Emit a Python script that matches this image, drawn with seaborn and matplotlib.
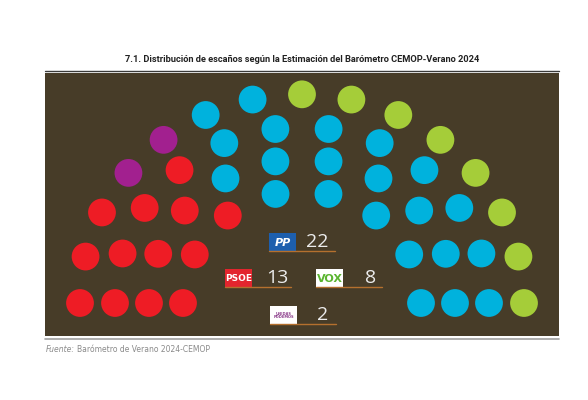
import numpy as np
import pandas as pd
import matplotlib
matplotlib.use("Agg")
import matplotlib.pyplot as plt
from matplotlib.patches import Rectangle
import seaborn as sns

# seats per hemicycle row (outer -> inner), parties left to right
ROW_SEATS = [15, 12, 10, 8]
PARTIES = ["PSOE", "Podemos", "PP", "VOX"]
PSOE_ROW = [3, 4, 3, 3]
PODEMOS_ROW = [2, 0, 0, 0]
PP_ROW = [2, 8, 7, 5]
VOX_ROW = [8, 0, 0, 0]
TOTALS = [13, 2, 22, 8]

COLORS = {"PSOE": "#ee1c25", "Podemos": "#a2208f", "PP": "#00b2dd", "VOX": "#a5cd39"}
BG = "#473c28"

TITLE = "7.1. Distribución de escaños según la Estimación del Barómetro CEMOP-Verano 2024"

# build seat table on a hemicycle
center_x, center_y = 302, 303
radius_x = [222, 187, 153, 119]
y_ratio = 0.94
rows = []
for r, n in enumerate(ROW_SEATS):
    counts = [PSOE_ROW[r], PODEMOS_ROW[r], PP_ROW[r], VOX_ROW[r]]
    labels = [p for p, c in zip(PARTIES, counts) for _ in range(c)]
    ang = np.linspace(np.pi, 0, n)
    for a, lab in zip(ang, labels):
        rows.append({
            "x": center_x + radius_x[r] * np.cos(a),
            "y": center_y - radius_x[r] * y_ratio * np.sin(a),
            "party": lab,
        })
seats = pd.DataFrame(rows)

sns.set_theme(style="white")
plt.rcParams["font.family"] = ["DejaVu Sans"]

fig = plt.figure(figsize=(5.88, 4.0), dpi=100)
ax = fig.add_axes([0, 0, 1, 1])

# panel and rules
ax.add_patch(Rectangle((45, 73), 514, 263, facecolor=BG, edgecolor="none", zorder=0))
ax.plot([45, 559], [71, 71], color="#3a3a3a", lw=1.0)
ax.plot([45, 559], [338.5, 338.5], color="#a0a0a0", lw=1.2)

ax.text(302, 59, TITLE, ha="center", va="center", fontsize=6.7, fontweight="bold",
        color="#222222", family=["Roboto", "DejaVu Sans"])

sns.scatterplot(data=seats, x="x", y="y", hue="party", palette=COLORS, s=400,
                linewidth=0, legend=False, ax=ax, zorder=3)
ax.set_xlim(0, 588)
ax.set_ylim(400, 0)
ax.axis("off")

# party badges with seat totals
badges = [
    ("PP", 269, 233, "#1d5fae", "PP", "white", 317),
    ("PSOE", 225, 269, "#e3252e", "PSOE", "white", 277),
    ("VOX", 316, 269, "white", "VOX", "#5bb531", 371),
    ("Podemos", 270, 306, "white", "UNIDAS\nPODEMOS", "#8a3a8a", 323),
]
for party, bx, by, fc, txt, tc, nx in badges:
    total = TOTALS[PARTIES.index(party)]
    ax.add_patch(Rectangle((bx, by), 27, 18, facecolor=fc, edgecolor="none", zorder=4))
    fs = 2.6 if party == "Podemos" else (6.5 if party == "PSOE" else 8)
    ax.text(bx + 13.5, by + 9.5, txt, ha="center", va="center", fontsize=fs,
            fontweight="bold", color=tc, zorder=5, linespacing=0.9,
            style="italic" if party == "PP" else "normal")
    ax.plot([bx, bx + 66], [by + 18, by + 18], color="#b5702e", lw=1.0, zorder=4)
    ax.text(nx, by + 9, str(total), ha="center", va="center", fontsize=14,
            color="#ececec", zorder=5, family=["Open Sans", "DejaVu Sans"])

# source line: italic label, then the rest right after it
src = ax.text(46, 349, "Fuente:", ha="left", va="center", fontsize=5.5, style="italic",
              color="#8a8a8a")
fig.canvas.draw()
x_after = ax.transData.inverted().transform((src.get_window_extent().x1, 0))[0]
ax.text(x_after + 2, 349, "Barómetro de Verano 2024-CEMOP", ha="left", va="center",
        fontsize=5.5, color="#8a8a8a")

fig.savefig("out.png", dpi=100, facecolor="white")
